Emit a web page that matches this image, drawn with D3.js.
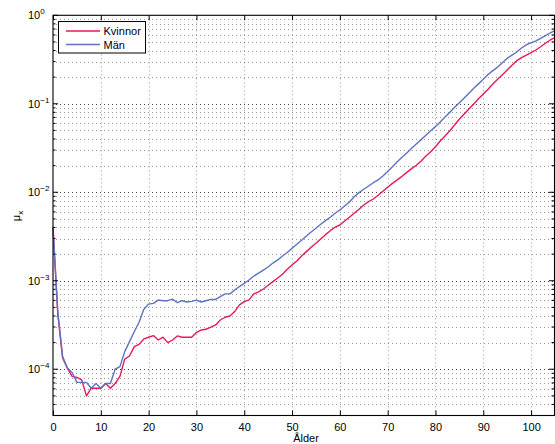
<!DOCTYPE html>
<html>
<head>
<meta charset="utf-8">
<script src="https://cdn.jsdelivr.net/npm/d3@7"></script>
<style>
  body { margin: 0; background: #fff; }
  svg { display: block; }
  text { font-family: "Liberation Sans", Arial, Helvetica, sans-serif; fill: #000; }
</style>
</head>
<body>
<svg id="chart" width="555" height="444"></svg>
<script>
// Mortality intensity by age (0–105), women and men
const kvinnor = [
  3.9e-3, 4.2e-4, 1.35e-4, 1.03e-4, 8.3e-5, 8.1e-5, 7.6e-5, 5.0e-5, 6.1e-5, 6.1e-5,
  6.1e-5, 6.9e-5, 6.1e-5, 6.9e-5, 8.3e-5, 1.3e-4, 1.41e-4, 1.8e-4, 1.91e-4, 2.2e-4,
  2.3e-4, 2.4e-4, 2.14e-4, 2.3e-4, 2.0e-4, 2.14e-4, 2.38e-4, 2.3e-4, 2.3e-4, 2.3e-4,
  2.6e-4, 2.78e-4, 2.83e-4, 2.99e-4, 3.17e-4, 3.6e-4, 3.87e-4, 4.0e-4, 4.48e-4, 5.33e-4,
  5.8e-4, 6.07e-4, 7.1e-4, 7.5e-4, 8.07e-4, 8.89e-4, 9.77e-4, 1.076e-3, 1.186e-3, 1.349e-3,
  1.507e-3, 1.675e-3, 1.905e-3, 2.133e-3, 2.393e-3, 2.649e-3, 2.965e-3, 3.319e-3, 3.681e-3, 4.027e-3,
  4.266e-3, 4.742e-3, 5.224e-3, 5.794e-3, 6.427e-3, 7.178e-3, 7.834e-3, 8.395e-3, 9.247e-3, 1.026e-2,
  1.138e-2, 1.259e-2, 1.380e-2, 1.514e-2, 1.679e-2, 1.849e-2, 2.018e-2, 2.259e-2, 2.570e-2, 2.877e-2,
  3.273e-2, 3.802e-2, 4.325e-2, 4.966e-2, 5.754e-2, 6.730e-2, 7.674e-2, 8.730e-2, 9.954e-2, 0.1140,
  0.1291, 0.1459, 0.1675, 0.1892, 0.2133, 0.2410, 0.2723, 0.3069, 0.3319, 0.3556,
  0.3776, 0.4055, 0.4416, 0.4831, 0.5260, 0.5610
];
const man = [
  4.1e-3, 4.5e-4, 1.4e-4, 1.03e-4, 9.2e-5, 7.1e-5, 7.1e-5, 7.1e-5, 6.1e-5, 6.9e-5,
  6.1e-5, 6.9e-5, 6.9e-5, 1.0e-4, 1.07e-4, 1.58e-4, 2.05e-4, 2.65e-4, 3.4e-4, 4.75e-4,
  5.45e-4, 5.55e-4, 6.05e-4, 5.95e-4, 5.95e-4, 6.2e-4, 5.65e-4, 5.95e-4, 5.75e-4, 5.85e-4,
  6.05e-4, 5.75e-4, 5.95e-4, 6.15e-4, 6.15e-4, 6.6e-4, 7.1e-4, 7.1e-4, 7.85e-4, 8.6e-4,
  9.35e-4, 1.02e-3, 1.13e-3, 1.22e-3, 1.318e-3, 1.429e-3, 1.585e-3, 1.718e-3, 1.905e-3, 2.089e-3,
  2.328e-3, 2.588e-3, 2.87e-3, 3.206e-3, 3.556e-3, 3.917e-3, 4.345e-3, 4.775e-3, 5.224e-3, 5.794e-3,
  6.31e-3, 6.998e-3, 7.762e-3, 8.913e-3, 9.908e-3, 1.081e-2, 1.178e-2, 1.282e-2, 1.377e-2, 1.528e-2,
  1.718e-2, 1.94e-2, 2.213e-2, 2.483e-2, 2.786e-2, 3.141e-2, 3.508e-2, 3.936e-2, 4.416e-2, 4.955e-2,
  5.521e-2, 6.237e-2, 7.079e-2, 8.035e-2, 9.12e-2, 0.1030, 0.1161, 0.1318, 0.1496, 0.1679,
  0.1892, 0.2138, 0.2371, 0.2600, 0.2917, 0.3266, 0.3548, 0.3846, 0.4266, 0.4624,
  0.4898, 0.5129, 0.5495, 0.5888, 0.6310, 0.6699
];
const seriesNames = ["Kvinnor", "Män"];
const seriesColors = ["#e6195a", "#5f72c0"];
const xTicks = [0, 10, 20, 30, 40, 50, 60, 70, 80, 90, 100];
const yTicks = [1e-4, 1e-3, 1e-2, 1e-1, 1];
const yExponents = ["−4", "−3", "−2", "−1", "0"];
const xLabel = "Ålder";

const ages = kvinnor.map((_, i) => i);

const svg = d3.select("#chart");
const pLeft = 53, pRight = 555, pTop = 15.3, pBottom = 415.5;

const x = d3.scaleLinear().domain([0, 105]).range([pLeft, pRight]);
const y = d3.scaleLog().domain([3e-5, 1]).range([pBottom, pTop]);

// minor log positions (2..9 per decade) inside the domain
const minor = [];
for (let e = -5; e <= -1; e++) {
  for (let m = 2; m <= 9; m++) {
    const v = m * Math.pow(10, e);
    if (v > 3.01e-5 && v < 1) minor.push(v);
  }
}

// dotted grid
const grid = svg.append("g");
grid.selectAll("line.hmin").data(minor).join("line")
  .attr("x1", pLeft + 3).attr("x2", pRight)
  .attr("y1", d => Math.round(y(d)) + 0.5).attr("y2", d => Math.round(y(d)) + 0.5)
  .attr("stroke", "#000").attr("stroke-opacity", 0.4)
  .attr("stroke-width", 1).attr("stroke-dasharray", "1,3");
grid.selectAll("line.hmaj").data(yTicks.slice(0, 4)).join("line")
  .attr("x1", pLeft + 3).attr("x2", pRight)
  .attr("y1", d => Math.round(y(d)) + 0.5).attr("y2", d => Math.round(y(d)) + 0.5)
  .attr("stroke", "#000").attr("stroke-opacity", 0.75)
  .attr("stroke-width", 1).attr("stroke-dasharray", "1,3");
grid.selectAll("line.v").data(xTicks.slice(1)).join("line")
  .attr("x1", d => Math.round(x(d)) + 0.5).attr("x2", d => Math.round(x(d)) + 0.5)
  .attr("y1", pTop + 3).attr("y2", pBottom)
  .attr("stroke", "#000").attr("stroke-opacity", 0.4)
  .attr("stroke-width", 1).attr("stroke-dasharray", "1,3");

// series lines
const line = (vals) => d3.line().x((d, i) => x(ages[i])).y(d => y(d))(vals);
[kvinnor, man].forEach((vals, k) => {
  svg.append("path").attr("d", line(vals))
    .attr("fill", "none").attr("stroke", seriesColors[k])
    .attr("stroke-width", 1.4).attr("stroke-linejoin", "round");
});

// axes box with inward ticks
const axisG = svg.append("g");
const xb = d3.axisBottom(x).tickValues(xTicks).tickSizeInner(-5).tickSizeOuter(0).tickPadding(8);
axisG.append("g").attr("transform", `translate(0,${pBottom})`).call(xb)
  .call(g => g.select(".domain").remove())
  .call(g => g.selectAll("text").attr("font-size", 11).attr("font-family", "Liberation Sans, Arial, sans-serif"));
const xt = d3.axisTop(x).tickValues(xTicks).tickSizeInner(-5).tickSizeOuter(0).tickFormat("");
axisG.append("g").attr("transform", `translate(0,${pTop})`).call(xt)
  .call(g => g.select(".domain").remove());

const yTickG = axisG.append("g");
[[pLeft, 1], [pRight - 1, -1]].forEach(([x0, dir]) => {
  yTickG.selectAll(null).data(yTicks).join("line")
    .attr("x1", x0).attr("x2", x0 + dir * 5)
    .attr("y1", d => y(d)).attr("y2", d => y(d))
    .attr("stroke", "#000").attr("stroke-width", 1);
  yTickG.selectAll(null).data(minor).join("line")
    .attr("x1", x0).attr("x2", x0 + dir * 2.5)
    .attr("y1", d => y(d)).attr("y2", d => y(d))
    .attr("stroke", "#000").attr("stroke-width", 1);
});

axisG.append("rect").attr("x", pLeft).attr("y", pTop)
  .attr("width", pRight - pLeft - 0.5).attr("height", pBottom - pTop)
  .attr("fill", "none").attr("stroke", "#000").attr("stroke-width", 1.1);

// y tick labels as 10^n
const yl = axisG.selectAll("text.ylab").data(yTicks).join("text")
  .attr("x", 28).attr("y", d => y(d) + 4).attr("font-size", 11);
yl.append("tspan").text("10");
yl.append("tspan").attr("font-size", 8).attr("dy", -5).text((d, i) => yExponents[i]);

// axis titles
svg.append("text").attr("x", (pLeft + pRight) / 2 + 2).attr("y", 442)
  .attr("text-anchor", "middle").attr("font-size", 11).text(xLabel);
const yt = svg.append("text")
  .attr("transform", "translate(20,216) rotate(-90)")
  .attr("text-anchor", "middle").attr("font-size", 11);
yt.append("tspan").text("μ");
yt.append("tspan").attr("font-size", 8).attr("dy", 3).text("x");

// legend
const lg = svg.append("g");
lg.append("rect").attr("x", 58.5).attr("y", 21.5).attr("width", 87).attr("height", 31.5)
  .attr("fill", "#fff").attr("stroke", "#000").attr("stroke-width", 1);
seriesNames.forEach((name, i) => {
  const ly = 31 + i * 13.5;
  lg.append("line").attr("x1", 66).attr("x2", 100).attr("y1", ly).attr("y2", ly)
    .attr("stroke", seriesColors[i]).attr("stroke-width", 1.4);
  lg.append("text").attr("x", 103.5).attr("y", ly + 4).attr("font-size", 11).text(name);
});
</script>
</body>
</html>
